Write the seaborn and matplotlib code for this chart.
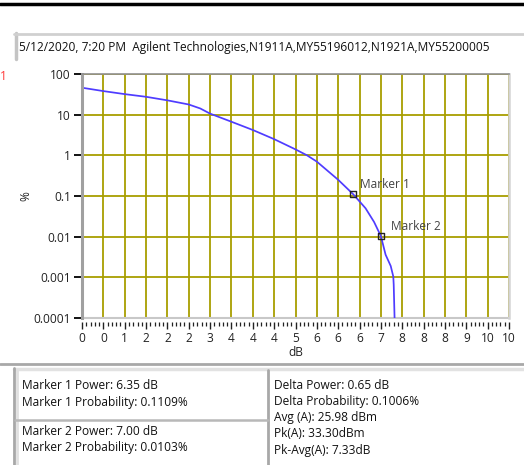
import matplotlib
matplotlib.use("Agg")
import matplotlib.pyplot as plt
import seaborn as sns
import pandas as pd
from matplotlib.patches import Rectangle
from matplotlib.lines import Line2D
from matplotlib.ticker import FixedLocator, FixedFormatter, MultipleLocator, NullLocator

# CCDF curve
power_db = [0.0, 0.5, 1.0, 1.5, 2.0, 2.5, 2.77, 3.0, 3.5, 4.0, 4.5, 5.0, 5.27, 5.5,
            6.0, 6.35, 6.64, 6.84, 7.0, 7.11, 7.23, 7.29, 7.30, 7.32]
prob_pct = [46, 38, 32, 27.5, 22.5, 17.8, 14.2, 10.6, 6.7, 4.2, 2.5, 1.4, 1.0, 0.70,
            0.25, 0.1109, 0.05, 0.023, 0.0103, 0.0036, 0.0019, 0.00105, 0.00066, 0.0001]

marker_names = ["Marker 1", "Marker 2"]
marker_db = [6.35, 7.00]
marker_pct = [0.1109, 0.0103]

x_ticks = [0.0, 0.5, 1.0, 1.5, 2.0, 2.5, 3.0, 3.5, 4.0, 4.5, 5.0,
           5.5, 6.0, 6.5, 7.0, 7.5, 8.0, 8.5, 9.0, 9.5, 10.0]
x_tick_labels = ["0", "0", "1", "2", "2", "2", "3", "4", "4", "4", "5",
                 "6", "6", "6", "7", "8", "8", "8", "9", "10", "10"]
y_ticks = [100, 10, 1, 0.1, 0.01, 0.001, 0.0001]
y_tick_labels = ["100", "10", "1", "0.1", "0.01", "0.001", "0.0001"]

header = "5/12/2020, 7:20 PM  Agilent Technologies,N1911A,MY55196012,N1921A,MY55200005"
left_top_rows = ["Marker 1 Power: 6.35 dB", "Marker 1 Probability: 0.1109%"]
left_bottom_rows = ["Marker 2 Power: 7.00 dB", "Marker 2 Probability: 0.0103%"]
right_rows = ["Delta Power: 0.65 dB", "Delta Probability: 0.1006%",
              "Avg (A): 25.98 dBm", "Pk(A): 33.30dBm", "Pk-Avg(A): 7.33dB"]

W, H = 524, 465
FS = 8.6

sns.set_style("white")
plt.rcParams['font.family'] = ['Open Sans', 'DejaVu Sans']


def fx(x):
    return x / W


def fy(y):
    return 1 - y / H


def hline(fig, x0, x1, y, color, lw):
    fig.add_artist(Line2D([fx(x0), fx(x1)], [fy(y), fy(y)], transform=fig.transFigure,
                          color=color, lw=lw))


def vline(fig, x, y0, y1, color, lw):
    fig.add_artist(Line2D([fx(x), fx(x)], [fy(y0), fy(y1)], transform=fig.transFigure,
                          color=color, lw=lw))


fig = plt.figure(figsize=(W / 100, H / 100), dpi=100)
fig.patch.set_facecolor("white")

# top black bar
hline(fig, 0, W, 4, "black", 2.5)

# header box
fig.add_artist(Rectangle((fx(14), fy(59)), fx(530) - fx(14), fy(33) - fy(59),
                         transform=fig.transFigure, facecolor="white", edgecolor="none"))
vline(fig, 15.5, 33, 59, "#c4c4c4", 2.5)
hline(fig, 14, W, 34, "#d0d0d0", 2)
fig.text(fx(19), fy(47), header, fontsize=FS, color="#111111", va="center", ha="left")

# red fragment on the left edge
fig.text(fx(0), fy(77), "1", fontsize=8.6, color="#ff3b3b", va="center", ha="left")

ax = fig.add_axes([fx(82), fy(318), (509 - 82) / W, (318 - 74) / H])
df = pd.DataFrame({"dB": power_db, "pct": prob_pct})
sns.lineplot(data=df, x="dB", y="pct", ax=ax, color="#4f3cff", lw=1.25, sort=False, zorder=4)

mk = pd.DataFrame({"name": marker_names, "dB": marker_db, "pct": marker_pct})
sns.scatterplot(data=mk, x="dB", y="pct", ax=ax, marker="s", s=22, facecolor="none",
                edgecolor="#222222", linewidth=1.0, zorder=5, legend=False)
offsets = [(7, 10), (10, 10)]
for name, xv, yv, off in zip(marker_names, marker_db, marker_pct, offsets):
    ax.annotate(name, (xv, yv), xytext=off, textcoords="offset pixels",
                fontsize=FS, color="#444444", va="center", ha="left")

ax.set_yscale("log")
ax.set_xlim(0, 10)
ax.set_ylim(0.0001, 100)

ax.xaxis.set_major_locator(FixedLocator(x_ticks))
ax.xaxis.set_major_formatter(FixedFormatter(x_tick_labels))
ax.xaxis.set_minor_locator(MultipleLocator(0.1))
ax.yaxis.set_major_locator(FixedLocator(y_ticks))
ax.yaxis.set_major_formatter(FixedFormatter(y_tick_labels))
ax.yaxis.set_minor_locator(NullLocator())

ax.grid(True, which="major", color="#a89e00", lw=1.3)
ax.set_axisbelow(True)

ax.tick_params(axis="y", which="major", left=True, length=6, width=1.3, color="black",
               pad=2, labelsize=FS, labelcolor="#222222")
ax.tick_params(axis="x", which="major", bottom=True, length=5, width=1.0, color="#222222",
               pad=2, labelsize=FS, labelcolor="#222222")
ax.tick_params(axis="x", which="minor", bottom=True, length=3, width=0.9, color="#222222")

ax.spines["bottom"].set_position(("outward", 3))
ax.spines["bottom"].set_visible(False)
ax.axhline(0.0001, color="#c8c8c8", lw=1.5, clip_on=False, zorder=3)
ax.spines["left"].set_color("#a0a0a0")
ax.spines["left"].set_linewidth(2.2)
ax.spines["top"].set_color("#909090")
ax.spines["top"].set_linewidth(1.2)
ax.spines["right"].set_color("#d4d4d4")
ax.spines["right"].set_linewidth(1.8)
for s in ax.spines.values():
    s.set_zorder(6)

ax.set_xlabel("")
ax.set_ylabel("")
fig.text(fx(296), fy(352), "dB", fontsize=FS, color="#222222", ha="center", va="center")
fig.text(fx(26), fy(196), "%", fontsize=FS, color="#222222", ha="center", va="center",
         rotation=90)

# bottom info panel
hline(fig, 0, W, 364, "#a8a8a8", 2)
hline(fig, 14, W, 368.5, "#e2e2e2", 2.5)
vline(fig, 14, 368, H, "#a8a8a8", 2)
vline(fig, 16.5, 370, H, "#e0e0e0", 2)
vline(fig, 268, 370, H, "#a8a8a8", 2)
hline(fig, 15, 268, 420, "#b8b8b8", 1.8)

for i, row in enumerate(left_top_rows):
    fig.text(fx(22), fy(385 + 17 * i), row, fontsize=FS, color="#111111", va="center")
for i, row in enumerate(left_bottom_rows):
    fig.text(fx(22), fy(431 + 16.5 * i), row, fontsize=FS, color="#111111", va="center")
for i, row in enumerate(right_rows):
    fig.text(fx(274), fy(385 + 16.3 * i), row, fontsize=FS, color="#111111", va="center")

fig.savefig("out.png", dpi=100)
